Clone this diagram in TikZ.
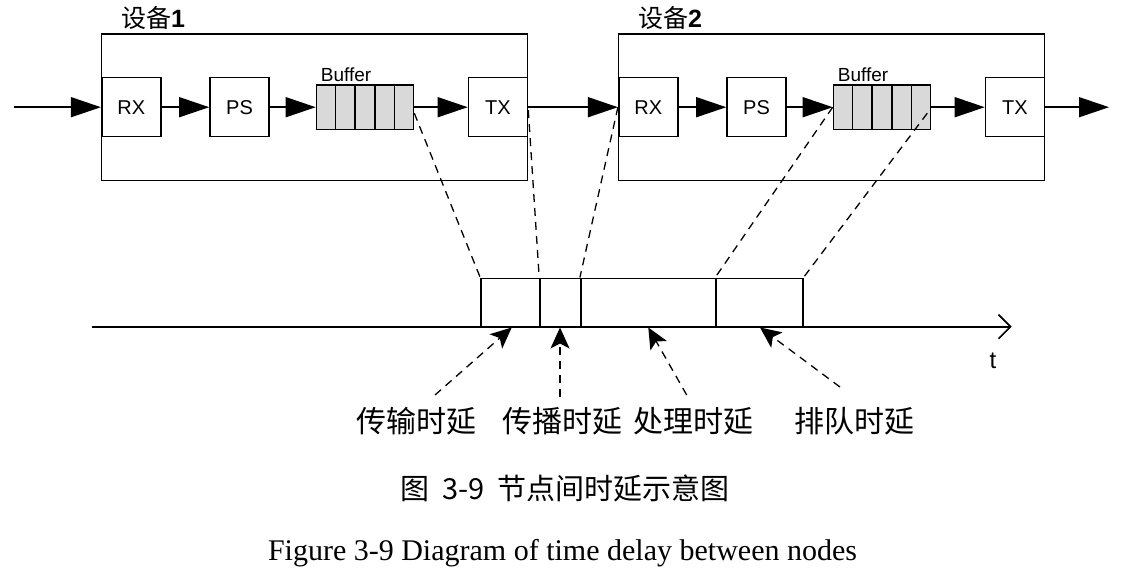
\documentclass[tikz,border=0pt]{standalone}
\usepackage{fontspec}
\setmainfont{Liberation Serif}
\setsansfont{Liberation Sans}
\newfontfamily\cjk{Noto Sans CJK SC}
\usetikzlibrary{arrows.meta,calc}
\definecolor{bufgray}{HTML}{D9D9D9}
\begin{document}
\begin{tikzpicture}[x=1pt,y=-1pt,
  devbox/.style={draw,line width=1.6pt,minimum width=426pt,minimum height=146.7pt,inner sep=0pt},
  box/.style={draw,line width=1.6pt,fill=white,minimum width=59pt,minimum height=59pt,inner sep=0pt,font=\sffamily\fontsize{20}{20}\selectfont},
  bufbox/.style={draw,line width=1.6pt,fill=bufgray,minimum width=97pt,minimum height=44.3pt,inner sep=0pt},
  flow/.style={line width=1.4pt,-{Triangle[length=30pt,width=20pt]}},
  guide/.style={line width=1.3pt,dash pattern=on 8pt off 6pt},
  ptr/.style={guide,-{Stealth[length=21pt,width=19pt,inset=5pt]}},
  seg/.style={draw,line width=1.6pt,minimum height=48.4pt,inner sep=0pt},
  lab/.style={font=\cjk\fontsize{30}{30}\selectfont,inner sep=0pt}
]
\useasboundingbox (0,0) rectangle (1121,569);
\foreach \d/\ox in {1/0,2/517}{
  \node[devbox] (dev\d) at (314.6+\ox,107.35) {};
  \node[anchor=south west,inner sep=1pt,font=\fontsize{25}{25}\selectfont] (name\d) at (120+\ox,31) {{\cjk 设备}\textbf{\sffamily\d}};
  \node[box] (rx\d) at (131.2+\ox,107.2) {RX};
  \node[box] (ps\d) at (239.5+\ox,107.2) {PS};
  \node[bufbox] (buf\d) at (365+\ox,107.2) {};
  \node[box] (tx\d) at (498+\ox,107.2) {TX};
  \foreach \i in {1,...,4}
    \draw[line width=1.6pt] ($(buf\d.north west)!\i/5!(buf\d.north east)$) -- ($(buf\d.south west)!\i/5!(buf\d.south east)$);
  \node[anchor=base west,inner sep=0pt,font=\sffamily\fontsize{19}{19}\selectfont] (bl\d) at ($(buf\d.north west)+(5,-3)$) {Buffer};
  \draw[flow] (rx\d.east) -- (ps\d.west);
  \draw[flow] (ps\d.east) -- (buf\d.west);
  \draw[flow] (buf\d.east) -- (tx\d.west);
}
\coordinate (in) at (14,107.2);
\coordinate (out) at (1109,107.2);
\draw[flow] (in) -- (rx1.west);
\draw[flow] (tx1.east) -- (rx2.west);
\draw[flow] (tx2.east) -- (out);

% timeline
\node[seg,minimum width=59pt] (seg1) at (510.5,302.5) {};
\node[seg,minimum width=40.7pt] (seg2) at (560.35,302.5) {};
\node[seg,minimum width=135.3pt] (seg3) at (648.35,302.5) {};
\node[seg,minimum width=86.7pt] (seg4) at (759.35,302.5) {};
\coordinate (ax0) at (91.7,326.7);
\coordinate (ax1) at (1011.7,326.7);
\draw[line width=1.7pt,-{Straight Barb[length=12pt,width=24pt]}] (ax0) -- (ax1);
\node[font=\sffamily\fontsize{24}{24}\selectfont,inner sep=0pt] (t) at (993,361) {t};

% dashed mapping
\draw[guide] ([yshift=-6pt]buf1.east) -- (seg1.north west);
\draw[guide] ([yshift=-3pt]tx1.east) -- (seg2.north west);
\draw[guide] (rx2.west) -- (seg3.north west);
\draw[guide] (buf2.west) -- (seg4.north west);
\draw[guide] ([xshift=-4pt,yshift=-6pt]buf2.east) -- (seg4.north east);

% labels
\node[lab] (L1) at (416,421) {传输时延};
\node[lab] (L2) at (562,421) {传播时延};
\node[lab] (L3) at (693,421) {处理时延};
\node[lab] (L4) at (854,421) {排队时延};
\coordinate (p1) at (435,395); \coordinate (q1) at (511.7,327.5);
\coordinate (p2) at (560,397); \coordinate (q2) at (560,327.5);
\coordinate (p3) at (686.7,395); \coordinate (q3) at (648.3,327.5);
\coordinate (p4) at (840,387); \coordinate (q4) at (760,327.5);
\draw[ptr] (p1) -- (q1);
\draw[ptr] (p2) -- (q2);
\draw[ptr] (p3) -- (q3);
\draw[ptr] (p4) -- (q4);

% captions
\node[inner sep=0pt,font=\cjk\fontsize{29}{29}\selectfont] (cap1) at (565,488) {图\hspace{0.45em}3-9\hspace{0.45em}节点间时延示意图};
\node[anchor=base,inner sep=0pt,font=\fontsize{30}{30}\selectfont] (cap2) at (562.5,560) {Figure 3-9 Diagram of time delay between nodes};
\end{tikzpicture}
\end{document}
